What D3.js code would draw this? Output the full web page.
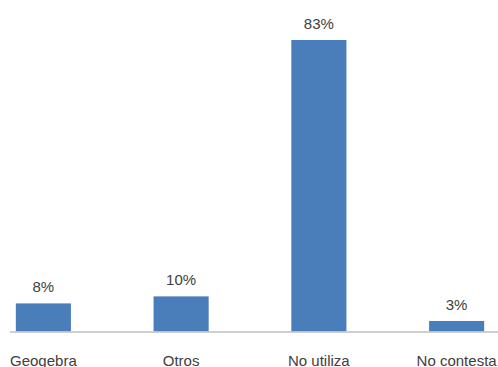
<!DOCTYPE html>
<html lang="es">
    <head>
        <meta charset="utf-8">
        <title>Uso de software</title>
        <script src="https://d3js.org/d3.v7.min.js"></script>
        <style type="text/css">
            body{
                margin: 0;
                background: white;
            }
            .labels{
                font-size: 15px;
                font-family: "Liberation Sans", sans-serif;
                fill: #404040;
            }
        </style>
    </head>
    <body>
        <script type="text/javascript">

            //data
            const categories = ["Geogebra", "Otros", "No utiliza", "No contesta"];
            const values = [8, 10, 83, 3];
            const valueLabels = ["8%", "10%", "83%", "3%"];

            const data = categories.map((c, i) => ({cat: c, val: values[i], label: valueLabels[i]}));

            //consts
            const w = 498;
            const h = 367;
            const baseline = 331.5;

            //scales
            const x = d3.scaleBand()
                        .domain(categories)
                        .range([-25.5, 525.5])
                        .paddingInner(0.6)
                        .paddingOuter(0.3);

            const y = d3.scaleLinear()
                        .domain([0, 83])
                        .range([baseline, 40]);

            //SVG
            const svg = d3.select("body")
                    .append("svg")
                    .attr("width", w)
                    .attr("height", h);

            //bars
            svg.selectAll("rect.bar")
               .data(data)
               .enter()
               .append("rect")
               .attr("class", "bar")
               .attr("x", d => x(d.cat))
               .attr("width", x.bandwidth())
               .attr("y", d => y(d.val))
               .attr("height", d => baseline - y(d.val))
               .attr("fill", "#4a7ebb");

            //axis line
            svg.append("line")
               .attr("x1", 10)
               .attr("x2", w)
               .attr("y1", baseline + 0.5)
               .attr("y2", baseline + 0.5)
               .attr("stroke", "#bfbfbf")
               .attr("stroke-width", 1.5);

            //value labels
            svg.selectAll("text.val")
               .data(data)
               .enter()
               .append("text")
               .attr("class", "labels val")
               .attr("x", d => x(d.cat) + x.bandwidth() / 2)
               .attr("y", d => y(d.val) - 11)
               .attr("text-anchor", "middle")
               .text(d => d.label);

            //category labels
            svg.selectAll("text.cat")
               .data(data)
               .enter()
               .append("text")
               .attr("class", "labels cat")
               .attr("x", d => x(d.cat) + x.bandwidth() / 2)
               .attr("y", 366)
               .attr("text-anchor", "middle")
               .text(d => d.cat);

        </script>
    </body>
</html>
